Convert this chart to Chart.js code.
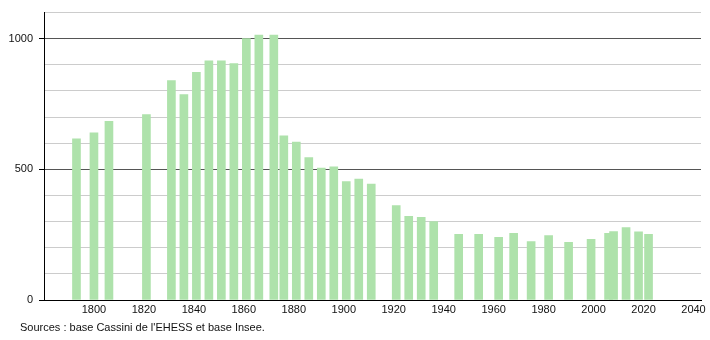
<!DOCTYPE html>
<html>
<head>
<meta charset="utf-8">
<script src="https://cdn.jsdelivr.net/npm/chart.js@4"></script>
<style>
  html,body{margin:0;padding:0;background:#fff;}
  #wrap{position:relative;width:710px;height:340px;}
  #src{position:absolute;left:20px;top:321px;font:11px "Liberation Sans",Arial,sans-serif;color:#111;}
</style>
</head>
<body>
<div id="wrap">
  <canvas id="chart" width="710" height="340"></canvas>
  <div id="src">Sources : base Cassini de l'EHESS et base Insee.</div>
</div>
<script>
const years = [1793,1800,1806,1821,1831,1836,1841,1846,1851,1856,1861,1866,1872,1876,1881,1886,1891,1896,1901,1906,1911,1921,1926,1931,1936,1946,1954,1962,1968,1975,1982,1990,1999,2006,2008,2013,2018,2022];
const population = [617,640,684,710,840,786,871,915,915,905,1001,1014,1014,628,604,545,505,510,453,463,444,361,320,316,300,251,251,240,255,224,247,221,232,255,262,277,261,251];
const xTicks = [1800,1820,1840,1860,1880,1900,1920,1940,1960,1980,2000,2020,2040];

const font = {family:"'Liberation Sans', Arial, sans-serif", size:11};

function qs(id){ return document.getElementById(id); }

new Chart(qs("chart"),{
  type:"bar",
  data:{
    datasets:[{
      data:years.map((y,i)=>({x:y,y:population[i]})),
      backgroundColor:"#aee2ab",
      barThickness:8,
      borderWidth:0
    }]
  },
  options:{
    responsive:false,
    animation:false,
    layout:{padding:{top:10,right:9,left:0,bottom:0}},
    plugins:{legend:{display:false},tooltip:{enabled:false}},
    scales:{
      x:{
        type:"linear",
        offset:false,
        min:1780,
        max:2043,
        afterBuildTicks:s=>{ s.ticks = xTicks.map(v=>({value:v})); },
        afterFit:s=>{ s.height = 40; },
        grid:{display:false,drawTicks:false,offset:false},
        border:{display:true,color:"#000",width:1},
        ticks:{color:"#111",font,padding:3,maxRotation:0,autoSkip:false,callback:v=>String(v)}
      },
      y:{
        min:0,
        max:1100,
        afterFit:s=>{ s.width = 44; },
        border:{display:true,color:"#000",width:1},
        grid:{
          color:c=>c.tick.value%500===0 ? "#555" : "#ccc",
          tickColor:c=>c.tick.value%500===0 ? "#000" : "rgba(0,0,0,0)",
          tickLength:5,
          drawTicks:true
        },
        ticks:{
          stepSize:100,
          color:"#111",
          font,
          padding:6,
          callback:v=>v%500===0 ? String(v) : ""
        }
      }
    }
  }
});
</script>
</body>
</html>
